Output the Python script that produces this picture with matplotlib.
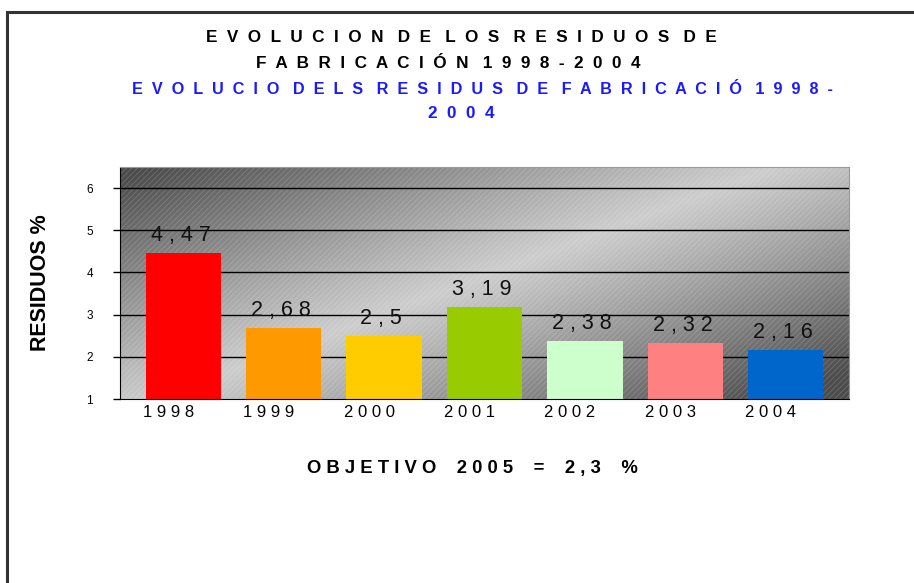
import numpy as np
import matplotlib
matplotlib.use('Agg')
import matplotlib.pyplot as plt
from matplotlib.patches import Rectangle
from matplotlib.lines import Line2D
import matplotlib.transforms as mtransforms

plt.rcParams['font.family'] = ['Liberation Sans', 'DejaVu Sans']
plt.rcParams['hatch.linewidth'] = 0.6

# datos
years = ['1998', '1999', '2000', '2001', '2002', '2003', '2004']
residuos = [4.47, 2.68, 2.5, 3.19, 2.38, 2.32, 2.16]
value_labels = ['4,47', '2,68', '2,5', '3,19', '2,38', '2,32', '2,16']
bar_colors = ['#ff0000', '#ff9900', '#ffcc00', '#99cc00', '#ccffcc', '#ff8080', '#0066cc']
yticks = [1, 2, 3, 4, 5, 6]

title_es = ['EVOLUCION DE LOS RESIDUOS DE', 'FABRICACIÓN 1998-2004']
title_ca = ['EVOLUCIO DELS RESIDUS DE FABRICACIÓ 1998-', '2004']
objetivo = 'OBJETIVO 2005 = 2,3 %'


def spaced(s, gap=2, word_gap=3):
    # separa las letras como en el grafico original de excel
    words = s.split(' ')
    return (' ' * word_gap).join((' ' * gap).join(w) for w in words)


fig = plt.figure(figsize=(9.14, 5.83), dpi=100)
W, H = 914, 583

# marco exterior (solo arriba e izquierda visibles)
fig.add_artist(Line2D([7.5 / W, 7.5 / W], [0, 1 - 12 / H], color='#333333', lw=2.2))
fig.add_artist(Line2D([7.5 / W, 1], [1 - 12 / H, 1 - 12 / H], color='#333333', lw=2.2))

ax = fig.add_axes([119.5 / W, 1 - 399 / H, (849 - 119.5) / W, (399 - 167) / H])
ax.set_xlim(-0.635, 6.63)
ax.set_ylim(1, 6.5)

# fondo degradado: oscuro arriba-izquierda y abajo-derecha
ny, nx = 200, 400
u = np.linspace(0, 1, nx)[None, :]
v = np.linspace(1, 0, ny)[:, None]
d = np.abs(u - 0.85 * v - 0.05)
light, dark = 0.80, 0.30
img = light - (light - dark) * np.clip(d / 0.85, 0, 1) ** 1.1
ax.imshow(img, cmap='gray', vmin=0, vmax=1, extent=[-0.635, 6.63, 1, 6.5],
          aspect='auto', zorder=0, interpolation='bilinear')
ax.add_patch(Rectangle((0, 0), 1, 1, transform=ax.transAxes, facecolor='none',
                       edgecolor=(1, 1, 1, 0.18), hatch='//////', lw=0, zorder=0.5))

for y in yticks[1:]:
    ax.axhline(y, color='black', lw=1, zorder=1)

x = np.arange(len(years))
ax.bar(x, np.array(residuos) - 1, bottom=1, width=0.75, color=bar_colors, zorder=2)

for xi, val, lab in zip(x, residuos, value_labels):
    ax.annotate(spaced(lab, gap=1), (xi, val), xytext=(-2, 5), textcoords='offset points',
                ha='center', va='bottom', fontsize=15.5, color='#111111', zorder=3)

ax.set_yticks(yticks)
ax.set_yticklabels([str(t) for t in yticks], fontsize=8.5)
ax.tick_params(axis='y', length=5, width=1, direction='out', pad=14)
ax.set_xticks(x)
ax.set_xticklabels([spaced(yr, gap=1) for yr in years], fontsize=12)
ax.tick_params(axis='x', length=0, pad=4)
offset = mtransforms.ScaledTranslation(-15 / 100, 0, fig.dpi_scale_trans)
for lbl in ax.get_xticklabels():
    lbl.set_transform(lbl.get_transform() + offset)

ax.spines['left'].set_color('black')
ax.spines['bottom'].set_color('black')
ax.spines['top'].set_color('#999999')
ax.spines['right'].set_color('#999999')

ax.set_ylabel('RESIDUOS %', fontsize=15.5, fontweight='bold')
ax.yaxis.set_label_coords(-68 / (849 - 119.5), 0.5)

# titulos
fig.text(461 / W, 1 - 38 / H, spaced(title_es[0]), ha='center', va='center',
         fontsize=12.3, fontweight='bold', color='black')
fig.text(448 / W, 1 - 63 / H, spaced(title_es[1]), ha='center', va='center',
         fontsize=12.3, fontweight='bold', color='black')
fig.text(482 / W, 1 - 89 / H, spaced(title_ca[0]), ha='center', va='center',
         fontsize=11.7, fontweight='bold', color='#1a1aff')
fig.text(461 / W, 1 - 114 / H, spaced(title_ca[1]), ha='center', va='center',
         fontsize=12.3, fontweight='bold', color='#1a1aff')

fig.text(472 / W, 1 - 468 / H, spaced(objetivo, gap=1, word_gap=4), ha='center', va='center',
         fontsize=13.3, fontweight='bold', color='black')

fig.savefig('out.png', dpi=100)
